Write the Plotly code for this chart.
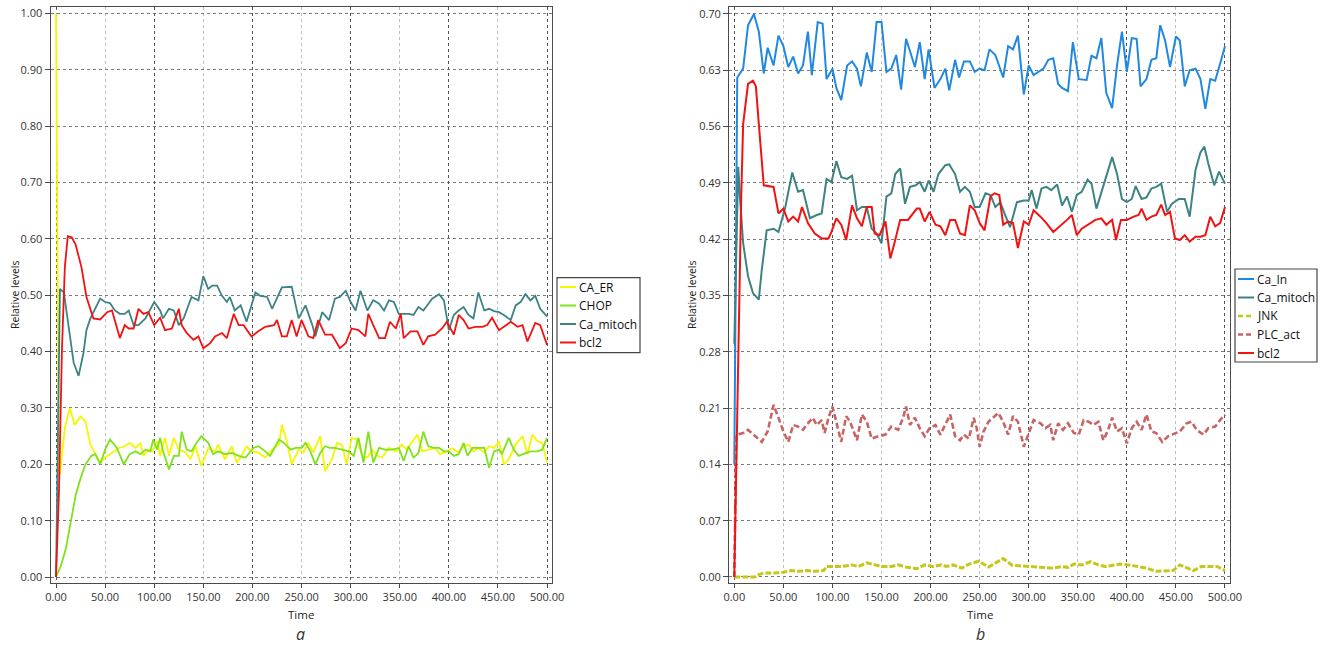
import plotly.graph_objects as go

# ---------------- Panel a data ----------------
ca_er_t = [0, 3, 4, 9, 14, 19, 25, 30, 35, 40, 45, 50, 57, 64, 70, 75, 81, 86, 89, 94, 98, 103, 106, 111, 115, 120, 125, 132, 137, 142, 148, 155, 162, 165, 172, 179, 184, 189, 194, 199, 206, 213, 220, 227, 230, 235, 240, 247, 252, 257, 262, 269, 274, 281, 286, 291, 296, 301, 306, 312, 317, 322, 327, 332, 339, 346, 352, 357, 363, 368, 373, 379, 386, 391, 396, 403, 410, 415, 420, 425, 430, 436, 441, 446, 451, 456, 461, 468, 475, 480, 485, 490, 495, 500]
ca_er_v = [1.0, 0.18, 0.182, 0.264, 0.30, 0.27, 0.285, 0.276, 0.235, 0.22, 0.203, 0.212, 0.221, 0.229, 0.232, 0.238, 0.229, 0.238, 0.215, 0.226, 0.223, 0.241, 0.215, 0.247, 0.215, 0.247, 0.226, 0.221, 0.209, 0.232, 0.197, 0.229, 0.223, 0.235, 0.209, 0.232, 0.203, 0.215, 0.232, 0.223, 0.221, 0.212, 0.226, 0.235, 0.27, 0.241, 0.20, 0.226, 0.221, 0.238, 0.221, 0.25, 0.188, 0.209, 0.238, 0.235, 0.20, 0.247, 0.244, 0.215, 0.212, 0.226, 0.215, 0.212, 0.229, 0.223, 0.235, 0.226, 0.241, 0.253, 0.223, 0.226, 0.229, 0.218, 0.221, 0.229, 0.221, 0.232, 0.235, 0.223, 0.229, 0.221, 0.232, 0.229, 0.241, 0.20, 0.209, 0.235, 0.25, 0.218, 0.253, 0.241, 0.238, 0.203]

chop_t = [0, 5, 10, 15, 20, 25, 30, 36, 40, 45, 50, 55, 62, 69, 75, 81, 86, 91, 96, 99, 103, 106, 109, 115, 120, 125, 128, 133, 138, 143, 148, 155, 160, 165, 172, 179, 186, 193, 201, 206, 211, 218, 227, 232, 239, 244, 250, 254, 259, 264, 269, 274, 279, 284, 291, 298, 303, 308, 313, 318, 323, 329, 335, 342, 349, 354, 359, 364, 369, 374, 379, 385, 390, 395, 400, 405, 410, 415, 419, 424, 430, 436, 441, 446, 451, 454, 461, 466, 471, 478, 483, 490, 495, 500]
chop_v = [0.0, 0.02, 0.05, 0.10, 0.145, 0.175, 0.20, 0.215, 0.218, 0.20, 0.226, 0.244, 0.229, 0.20, 0.218, 0.223, 0.218, 0.226, 0.223, 0.244, 0.226, 0.247, 0.223, 0.191, 0.215, 0.215, 0.258, 0.226, 0.223, 0.238, 0.25, 0.238, 0.218, 0.223, 0.218, 0.22, 0.215, 0.212, 0.229, 0.232, 0.226, 0.215, 0.244, 0.238, 0.226, 0.229, 0.229, 0.238, 0.223, 0.20, 0.22, 0.232, 0.229, 0.229, 0.226, 0.223, 0.215, 0.247, 0.203, 0.258, 0.203, 0.229, 0.226, 0.226, 0.229, 0.206, 0.232, 0.212, 0.22, 0.258, 0.232, 0.229, 0.229, 0.223, 0.223, 0.215, 0.218, 0.238, 0.215, 0.229, 0.229, 0.229, 0.194, 0.223, 0.226, 0.218, 0.247, 0.226, 0.215, 0.22, 0.223, 0.223, 0.226, 0.247]

mito_a_t = [0, 4, 8, 13, 18, 23, 28, 31, 35, 45, 50, 55, 60, 65, 70, 74, 79, 84, 91, 100, 106, 109, 115, 120, 125, 130, 138, 145, 150, 155, 159, 164, 169, 174, 177, 182, 188, 194, 203, 208, 215, 220, 230, 240, 247, 254, 261, 264, 271, 278, 284, 289, 295, 300, 305, 310, 317, 323, 329, 334, 339, 344, 349, 359, 364, 369, 374, 383, 390, 395, 400, 405, 410, 415, 420, 425, 430, 436, 441, 446, 451, 456, 463, 468, 473, 478, 483, 488, 493, 500]
mito_a_v = [0.0, 0.511, 0.505, 0.438, 0.38, 0.357, 0.398, 0.438, 0.459, 0.494, 0.488, 0.486, 0.473, 0.467, 0.467, 0.473, 0.447, 0.447, 0.459, 0.488, 0.473, 0.459, 0.476, 0.473, 0.447, 0.459, 0.497, 0.491, 0.534, 0.511, 0.517, 0.517, 0.499, 0.488, 0.497, 0.473, 0.482, 0.453, 0.505, 0.499, 0.497, 0.476, 0.514, 0.515, 0.459, 0.482, 0.447, 0.427, 0.470, 0.456, 0.494, 0.497, 0.508, 0.488, 0.473, 0.508, 0.473, 0.491, 0.485, 0.473, 0.491, 0.488, 0.467, 0.467, 0.465, 0.479, 0.473, 0.494, 0.502, 0.491, 0.438, 0.465, 0.473, 0.479, 0.465, 0.459, 0.505, 0.473, 0.476, 0.472, 0.470, 0.465, 0.456, 0.482, 0.488, 0.502, 0.491, 0.499, 0.476, 0.462]

bcl2_a_t = [0, 3, 6, 9, 12, 16, 20, 26, 31, 38, 45, 52, 57, 65, 70, 74, 79, 84, 89, 94, 100, 106, 111, 118, 125, 128, 133, 140, 145, 150, 157, 162, 169, 174, 181, 186, 191, 199, 206, 213, 222, 225, 230, 235, 240, 245, 250, 257, 262, 267, 274, 281, 289, 295, 301, 308, 315, 318, 323, 329, 335, 340, 346, 351, 354, 361, 368, 374, 379, 386, 393, 398, 405, 410, 415, 420, 427, 434, 439, 444, 451, 458, 463, 470, 475, 480, 488, 493, 500]
bcl2_a_v = [0.0, 0.15, 0.40, 0.55, 0.605, 0.603, 0.59, 0.549, 0.497, 0.459, 0.457, 0.470, 0.473, 0.424, 0.447, 0.441, 0.441, 0.476, 0.467, 0.470, 0.447, 0.460, 0.438, 0.441, 0.476, 0.447, 0.433, 0.421, 0.427, 0.406, 0.415, 0.427, 0.433, 0.424, 0.467, 0.447, 0.447, 0.427, 0.436, 0.444, 0.447, 0.456, 0.427, 0.427, 0.456, 0.427, 0.456, 0.427, 0.424, 0.456, 0.430, 0.430, 0.406, 0.415, 0.441, 0.438, 0.427, 0.467, 0.447, 0.424, 0.424, 0.453, 0.441, 0.467, 0.424, 0.436, 0.436, 0.412, 0.427, 0.430, 0.441, 0.453, 0.430, 0.465, 0.456, 0.441, 0.444, 0.444, 0.447, 0.460, 0.438, 0.447, 0.453, 0.444, 0.447, 0.418, 0.451, 0.447, 0.412]

# ---------------- Panel b data ----------------
ca_in_t = [0, 3, 9, 14, 20, 25, 30, 34, 40, 45, 50, 55, 60, 65, 70, 75, 79, 85, 90, 94, 100, 104, 109, 115, 120, 125, 129, 135, 140, 145, 150, 155, 160, 165, 170, 175, 179, 184, 189, 194, 198, 204, 210, 215, 219, 225, 229, 234, 240, 245, 250, 255, 260, 266, 274, 279, 284, 289, 295, 300, 305, 310, 315, 320, 325, 330, 334, 340, 345, 351, 359, 364, 369, 374, 379, 385, 390, 395, 400, 405, 410, 414, 420, 425, 430, 434, 439, 444, 450, 454, 459, 464, 470, 475, 480, 485, 490, 495, 500]
ca_in_v = [0.14, 0.621, 0.632, 0.686, 0.70, 0.678, 0.626, 0.658, 0.636, 0.673, 0.66, 0.634, 0.647, 0.626, 0.636, 0.678, 0.624, 0.69, 0.688, 0.619, 0.632, 0.608, 0.593, 0.636, 0.641, 0.632, 0.61, 0.652, 0.628, 0.69, 0.69, 0.628, 0.632, 0.649, 0.606, 0.669, 0.654, 0.634, 0.665, 0.619, 0.656, 0.608, 0.619, 0.632, 0.605, 0.643, 0.621, 0.641, 0.641, 0.628, 0.632, 0.630, 0.656, 0.649, 0.621, 0.66, 0.656, 0.673, 0.60, 0.636, 0.624, 0.628, 0.632, 0.643, 0.645, 0.613, 0.608, 0.604, 0.665, 0.619, 0.618, 0.648, 0.645, 0.67, 0.602, 0.583, 0.636, 0.678, 0.628, 0.67, 0.669, 0.61, 0.619, 0.643, 0.645, 0.686, 0.667, 0.634, 0.672, 0.667, 0.61, 0.63, 0.632, 0.619, 0.582, 0.619, 0.617, 0.638, 0.66]

mito_b_t = [0, 4, 6, 9, 14, 19, 25, 28, 33, 40, 45, 52, 59, 65, 70, 77, 84, 89, 94, 99, 104, 109, 115, 120, 125, 130, 135, 140, 145, 150, 155, 160, 164, 169, 174, 179, 185, 189, 194, 198, 203, 208, 215, 219, 225, 230, 235, 240, 245, 250, 256, 261, 266, 271, 276, 281, 288, 295, 300, 303, 308, 313, 318, 323, 329, 334, 339, 344, 349, 354, 360, 364, 369, 376, 385, 390, 395, 400, 405, 409, 415, 420, 425, 430, 435, 441, 446, 453, 459, 464, 470, 475, 479, 483, 489, 494, 500]
mito_b_v = [0.29, 0.51, 0.468, 0.415, 0.374, 0.353, 0.345, 0.382, 0.431, 0.433, 0.429, 0.46, 0.503, 0.479, 0.481, 0.446, 0.45, 0.452, 0.495, 0.491, 0.517, 0.497, 0.495, 0.499, 0.456, 0.460, 0.460, 0.433, 0.427, 0.415, 0.473, 0.477, 0.501, 0.508, 0.464, 0.485, 0.487, 0.491, 0.479, 0.493, 0.479, 0.501, 0.512, 0.513, 0.501, 0.479, 0.485, 0.479, 0.46, 0.46, 0.477, 0.475, 0.46, 0.466, 0.45, 0.435, 0.466, 0.468, 0.468, 0.481, 0.458, 0.483, 0.485, 0.481, 0.488, 0.462, 0.473, 0.454, 0.475, 0.479, 0.494, 0.489, 0.458, 0.485, 0.522, 0.501, 0.47, 0.466, 0.47, 0.486, 0.47, 0.472, 0.483, 0.485, 0.489, 0.454, 0.464, 0.47, 0.47, 0.448, 0.506, 0.528, 0.535, 0.514, 0.487, 0.504, 0.489]

bcl2_b_t = [0, 2, 5, 7, 9, 14, 19, 22, 25, 30, 40, 45, 50, 55, 60, 65, 69, 75, 82, 89, 96, 99, 104, 109, 114, 120, 125, 130, 135, 140, 143, 148, 154, 159, 164, 169, 177, 186, 189, 194, 199, 205, 210, 215, 220, 225, 230, 235, 240, 245, 250, 255, 261, 265, 270, 274, 279, 284, 289, 295, 300, 305, 312, 318, 325, 332, 339, 344, 349, 354, 361, 368, 374, 379, 385, 389, 394, 400, 407, 412, 415, 420, 425, 430, 435, 439, 444, 449, 454, 459, 464, 470, 475, 480, 485, 490, 495, 500]
bcl2_b_v = [0.0, 0.15, 0.35, 0.47, 0.563, 0.613, 0.617, 0.61, 0.563, 0.487, 0.485, 0.452, 0.458, 0.442, 0.448, 0.442, 0.46, 0.44, 0.427, 0.421, 0.421, 0.429, 0.446, 0.438, 0.419, 0.462, 0.446, 0.436, 0.46, 0.46, 0.427, 0.425, 0.442, 0.396, 0.419, 0.444, 0.444, 0.458, 0.458, 0.442, 0.454, 0.438, 0.436, 0.425, 0.444, 0.444, 0.427, 0.425, 0.462, 0.456, 0.440, 0.431, 0.473, 0.477, 0.475, 0.438, 0.442, 0.440, 0.409, 0.442, 0.438, 0.456, 0.448, 0.440, 0.429, 0.436, 0.444, 0.450, 0.425, 0.433, 0.438, 0.444, 0.446, 0.438, 0.444, 0.419, 0.444, 0.444, 0.448, 0.450, 0.458, 0.444, 0.448, 0.450, 0.463, 0.450, 0.454, 0.421, 0.419, 0.425, 0.417, 0.423, 0.423, 0.425, 0.448, 0.436, 0.440, 0.46]

plc_t = [0, 2, 3, 9, 14, 21, 28, 34, 40, 45, 50, 55, 60, 65, 70, 75, 80, 84, 89, 92, 96, 100, 104, 109, 114, 118, 125, 130, 135, 140, 147, 154, 160, 167, 172, 175, 179, 184, 189, 194, 199, 205, 210, 215, 220, 225, 230, 234, 239, 244, 247, 250, 254, 259, 264, 269, 274, 279, 284, 289, 295, 300, 305, 312, 317, 322, 325, 330, 335, 340, 346, 351, 356, 361, 366, 371, 376, 381, 385, 390, 395, 400, 405, 410, 415, 420, 425, 430, 436, 442, 449, 454, 461, 466, 471, 478, 483, 490, 495, 500]
plc_v = [0.0, 0.175, 0.177, 0.179, 0.183, 0.175, 0.168, 0.181, 0.214, 0.198, 0.181, 0.168, 0.189, 0.187, 0.183, 0.191, 0.198, 0.189, 0.195, 0.179, 0.198, 0.212, 0.191, 0.168, 0.20, 0.193, 0.17, 0.202, 0.193, 0.172, 0.175, 0.177, 0.187, 0.183, 0.198, 0.212, 0.189, 0.198, 0.185, 0.175, 0.185, 0.189, 0.177, 0.189, 0.202, 0.175, 0.17, 0.177, 0.172, 0.198, 0.185, 0.162, 0.181, 0.193, 0.198, 0.204, 0.193, 0.177, 0.20, 0.193, 0.162, 0.179, 0.195, 0.191, 0.185, 0.189, 0.17, 0.191, 0.183, 0.191, 0.179, 0.177, 0.195, 0.193, 0.189, 0.193, 0.17, 0.183, 0.198, 0.181, 0.185, 0.166, 0.185, 0.193, 0.183, 0.202, 0.181, 0.179, 0.168, 0.175, 0.179, 0.181, 0.191, 0.193, 0.183, 0.177, 0.185, 0.187, 0.195, 0.202]

jnk_t = [0, 21, 25, 30, 42, 50, 58, 65, 74, 82, 91, 94, 100, 109, 120, 126, 135, 142, 150, 160, 167, 176, 186, 194, 203, 211, 216, 223, 232, 239, 249, 259, 266, 274, 283, 291, 300, 308, 317, 325, 334, 340, 346, 354, 363, 371, 378, 386, 393, 402, 410, 420, 430, 439, 447, 454, 461, 468, 476, 485, 492, 500]
jnk_v = [0.0, 0.0, 0.003, 0.005, 0.005, 0.006, 0.008, 0.007, 0.008, 0.007, 0.008, 0.013, 0.013, 0.013, 0.015, 0.013, 0.0175, 0.015, 0.013, 0.013, 0.015, 0.012, 0.0104, 0.015, 0.013, 0.015, 0.013, 0.015, 0.011, 0.016, 0.0196, 0.0125, 0.0175, 0.023, 0.0146, 0.014, 0.013, 0.013, 0.012, 0.011, 0.013, 0.012, 0.016, 0.015, 0.019, 0.015, 0.013, 0.015, 0.016, 0.015, 0.013, 0.011, 0.007, 0.008, 0.008, 0.015, 0.011, 0.008, 0.013, 0.013, 0.013, 0.008]

x_ticks = [0, 50, 100, 150, 200, 250, 300, 350, 400, 450, 500]
legend_a = ["CA_ER", "CHOP", "Ca_mitoch", "bcl2"]
legend_b = ["Ca_In", "Ca_mitoch", "JNK", "PLC_act", "bcl2"]

# ---------------- styles ----------------
W, H = 1330, 648
FONT = "Open Sans"
C_YEL, C_GRN, C_TEAL, C_RED = "#f6f600", "#7ee21c", "#3d8383", "#f21212"
C_BLUE, C_JNK, C_PLC = "#2188e0", "#c4c81a", "#c86464"

def px(x):
    return x / W

def py(y):
    return 1 - y / H

fig = go.Figure()

def add(t, v, name, color, width, xa, ya, dash="solid"):
    fig.add_trace(go.Scatter(x=t, y=v, name=name, mode="lines", xaxis=xa, yaxis=ya,
                             line=dict(color=color, width=width, dash=dash),
                             showlegend=False))

add(ca_er_t, ca_er_v, legend_a[0], C_YEL, 1.8, "x", "y")
add(chop_t, chop_v, legend_a[1], C_GRN, 1.8, "x", "y")
add(mito_a_t, mito_a_v, legend_a[2], C_TEAL, 1.8, "x", "y")
add(bcl2_a_t, bcl2_a_v, legend_a[3], C_RED, 1.8, "x", "y")

add(ca_in_t, ca_in_v, legend_b[0], C_BLUE, 2.0, "x2", "y2")
add(mito_b_t, mito_b_v, legend_b[1], C_TEAL, 2.0, "x2", "y2")
add(jnk_t, jnk_v, legend_b[2], C_JNK, 3.0, "x2", "y2", dash="6px,2px")
add(plc_t, plc_v, legend_b[3], C_PLC, 2.6, "x2", "y2", dash="6px,3px")
add(bcl2_b_t, bcl2_b_v, legend_b[4], C_RED, 2.0, "x2", "y2")

# empty traces to create the overlay axes carrying the darker 100-step grid
fig.add_trace(go.Scatter(x=[], y=[], xaxis="x3", yaxis="y", showlegend=False, hoverinfo="skip"))
fig.add_trace(go.Scatter(x=[], y=[], xaxis="x4", yaxis="y2", showlegend=False, hoverinfo="skip"))

dom_y = [py(582.7), py(7.3)]
dom_xa = [px(50.7), px(552)]
dom_xb = [px(729.3), px(1229.5)]
rng_xa = [-5.4, 505.0]
rng_xb = [-5.1, 504.6]

tickfont = dict(family=FONT, size=11, color="#333333")
frame = dict(showline=True, linecolor="#4a4a4a", linewidth=1.4, mirror=True, zeroline=False,
             automargin=False)
xcommon = dict(tickvals=x_ticks, tickformat=".2f", ticks="outside", ticklen=4, tickcolor="#4a4a4a",
               showgrid=True, gridcolor="#bdbdbd", griddash="3px,3px", gridwidth=1,
               tickfont=tickfont, **frame)
ycommon = dict(tickformat=".2f", ticks="outside", ticklen=5, tickcolor="#4a4a4a",
               showgrid=True, gridcolor="#7a7a7a", griddash="3px,3px", gridwidth=1,
               tickfont=tickfont, domain=dom_y, **frame)
overlay = dict(tick0=0, dtick=100, showgrid=True, gridcolor="#555555", griddash="3px,3px",
               gridwidth=1, showticklabels=False, ticks="", showline=False, zeroline=False,
               automargin=False)

fig.update_layout(
    width=W, height=H, margin=dict(l=0, r=0, t=0, b=0, autoexpand=False),
    paper_bgcolor="white", plot_bgcolor="white", showlegend=False,
    font=dict(family=FONT, size=11, color="#222222"),
    xaxis=dict(domain=dom_xa, range=rng_xa, anchor="y", **xcommon),
    yaxis=dict(range=[-0.0101, 1.011], tick0=0, dtick=0.1, anchor="x", **ycommon),
    xaxis2=dict(domain=dom_xb, range=rng_xb, anchor="y2", **xcommon),
    yaxis2=dict(range=[-0.0071, 0.7083], tick0=0, dtick=0.07, anchor="x2", **ycommon),
    xaxis3=dict(overlaying="x", anchor="y", range=rng_xa, **overlay),
    xaxis4=dict(overlaying="x2", anchor="y2", range=rng_xb, **overlay),
)

annos = []
def text(x, y, s, size=11, angle=0, color="#222222", xanchor="center"):
    annos.append(dict(x=px(x), y=py(y), xref="paper", yref="paper", text=s, showarrow=False,
                      textangle=angle, xanchor=xanchor, yanchor="middle",
                      font=dict(family=FONT, size=size, color=color)))

# axis titles and panel letters
text(15, 295, "Relative levels", size=10.5, angle=-90)
text(692, 295, "Relative levels", size=10.5, angle=-90)
text(301, 614, "Time", size=11.5)
text(980, 614, "Time", size=11.5)
text(300, 634, "<i>a</i>", size=16, color="#333333")
text(980, 634, "<i>b</i>", size=16, color="#333333")

shapes = []
def legend(x0, y0, x1, y1, rows_y, names, colors, dashes, widths):
    shapes.append(dict(type="rect", xref="paper", yref="paper", x0=px(x0), x1=px(x1),
                       y0=py(y1), y1=py(y0), line=dict(color="#444444", width=1.2),
                       fillcolor="white", layer="above"))
    for yy, n, c, d, w in zip(rows_y, names, colors, dashes, widths):
        shapes.append(dict(type="line", xref="paper", yref="paper", x0=px(x0 + 3), x1=px(x0 + 19),
                           y0=py(yy), y1=py(yy), line=dict(color=c, width=w, dash=d), layer="above"))
        text(x0 + 20, yy, n, size=12, color="#111111", xanchor="left")

legend(557, 277.7, 640, 352.7, [287, 305.5, 324, 342.5], legend_a,
       [C_YEL, C_GRN, C_TEAL, C_RED], ["solid"] * 4, [2, 2, 2, 2])
legend(1235, 269, 1317, 362, [279, 297.5, 316, 334.5, 353], legend_b,
       [C_BLUE, C_TEAL, C_JNK, C_PLC, C_RED], ["solid", "solid", "5px,3px", "5px,3px", "solid"],
       [2, 2, 2.5, 2.5, 2])

fig.update_layout(annotations=annos, shapes=shapes)
fig.write_html("out.html")
